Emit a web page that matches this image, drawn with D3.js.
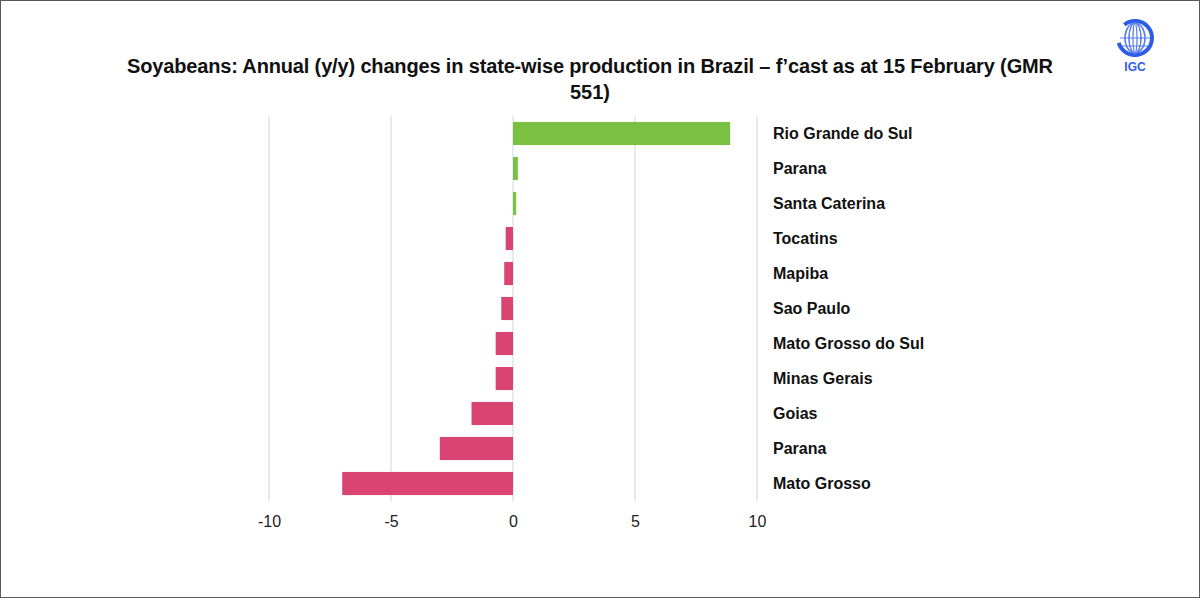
<!DOCTYPE html>
<html>
<head>
<meta charset="utf-8">
<script src="https://cdn.jsdelivr.net/npm/d3@7"></script>
<style>
  body { margin: 0; background: #fff; }
  svg { display: block; }
</style>
</head>
<body>
<div class="chart"></div>
<script>
// state-wise y/y changes (m t), top to bottom
var states = ['Rio Grande do Sul', 'Parana', 'Santa Caterina', 'Tocatins', 'Mapiba', 'Sao Paulo',
              'Mato Grosso do Sul', 'Minas Gerais', 'Goias', 'Parana ', 'Mato Grosso']
var changes = [8.9, 0.2, 0.13, -0.3, -0.36, -0.48, -0.71, -0.71, -1.7, -3.0, -7.0]
var xTicks = [-10, -5, 0, 5, 10]

var green = '#7ac143'
var pink = '#d94472'

var width = 1200, height = 598
var margin = {top: 116, right: 443, bottom: 97, left: 269}

var data = states.map((s, i) => ({state: s, value: changes[i]}))

var svg = d3.select('.chart').append('svg')
    .attr('width', width)
    .attr('height', height)
    .attr('viewBox', [0, 0, width, height])

// outer frame
svg.append('rect')
    .attr('x', 0.5).attr('y', 0.5)
    .attr('width', width - 1).attr('height', height - 1)
    .attr('fill', '#fff')
    .attr('stroke', '#595959')

let x = d3.scaleLinear()
    .domain([-10, 10])
    .range([margin.left, width - margin.right])

let y = d3.scaleBand()
    .domain(states)
    .range([margin.top, height - margin.bottom])
    .paddingInner(0.34)
    .paddingOuter(0.17)

// vertical gridlines
svg.append('g')
    .selectAll('line')
    .data(xTicks)
    .enter().append('line')
    .attr('x1', d => x(d)).attr('x2', d => x(d))
    .attr('y1', margin.top).attr('y2', height - margin.bottom)
    .attr('stroke', '#d6e0e0')
    .attr('stroke-width', 1.2)

// bars
svg.append('g')
    .selectAll('rect')
    .data(data)
    .enter().append('rect')
    .attr('x', d => x(Math.min(0, d.value)))
    .attr('y', d => y(d.state))
    .attr('width', d => Math.abs(x(d.value) - x(0)))
    .attr('height', y.bandwidth())
    .attr('fill', d => d.value >= 0 ? green : pink)

// x axis labels (no line, no ticks), plain hyphen for negatives
let xAxis = g => g
    .attr('transform', 'translate(0,' + (height - margin.bottom) + ')')
    .call(d3.axisBottom(x).tickValues(xTicks).tickSize(0).tickPadding(15).tickFormat(d => String(d)))

svg.append('g')
    .call(xAxis)
    .call(g => g.select('.domain').remove())
    .call(g => g.selectAll('text')
        .attr('font-family', 'Liberation Sans, Arial, sans-serif')
        .attr('font-size', 16)
        .attr('fill', '#222'))

// state labels on the right
svg.append('g')
    .selectAll('text')
    .data(data)
    .enter().append('text')
    .attr('x', 773)
    .attr('y', d => y(d.state) + y.bandwidth() / 2)
    .attr('dy', '0.35em')
    .attr('font-family', 'Liberation Sans, Arial, sans-serif')
    .attr('font-weight', 'bold')
    .attr('font-size', 16)
    .attr('fill', '#111')
    .text(d => d.state.trim())

// title, two lines
var title = svg.append('text')
    .attr('text-anchor', 'middle')
    .attr('font-family', 'Liberation Sans Narrow, Liberation Sans, Arial, sans-serif')
    .attr('font-weight', 'bold')
    .attr('font-size', 20)
    .attr('fill', '#111')

title.append('tspan')
    .attr('x', 590).attr('y', 73)
    .attr('textLength', 926)
    .text('Soyabeans: Annual (y/y) changes in state-wise production in Brazil \u2013 f\u2019cast as at 15 February (GMR')
title.append('tspan')
    .attr('x', 590).attr('y', 99)
    .text('551)')

// IGC logo (rough)
var logo = svg.append('g').attr('transform', 'translate(1135,38)')
logo.append('circle')
    .attr('r', 17)
    .attr('fill', 'none')
    .attr('stroke', '#2f5ce6')
    .attr('stroke-width', 4)
    .attr('stroke-dasharray', '60 20')
    .attr('transform', 'rotate(-40)')
for (var k = -2; k <= 2; k++) {
    logo.append('ellipse')
        .attr('rx', Math.abs(k) * 4 + 2).attr('ry', 15)
        .attr('fill', 'none')
        .attr('stroke', '#5b7ff0')
        .attr('stroke-width', 1.2)
}
logo.append('line').attr('x1', -15).attr('x2', 15).attr('y1', 0).attr('y2', 0).attr('stroke', '#5b7ff0')
logo.append('line').attr('x1', -13).attr('x2', 13).attr('y1', 8).attr('y2', 8).attr('stroke', '#5b7ff0')
logo.append('text')
    .attr('x', 0).attr('y', 33)
    .attr('text-anchor', 'middle')
    .attr('font-family', 'Liberation Sans, Arial, sans-serif')
    .attr('font-weight', 'bold')
    .attr('font-size', 12)
    .attr('fill', '#2f5ce6')
    .text('IGC')
</script>
</body>
</html>
